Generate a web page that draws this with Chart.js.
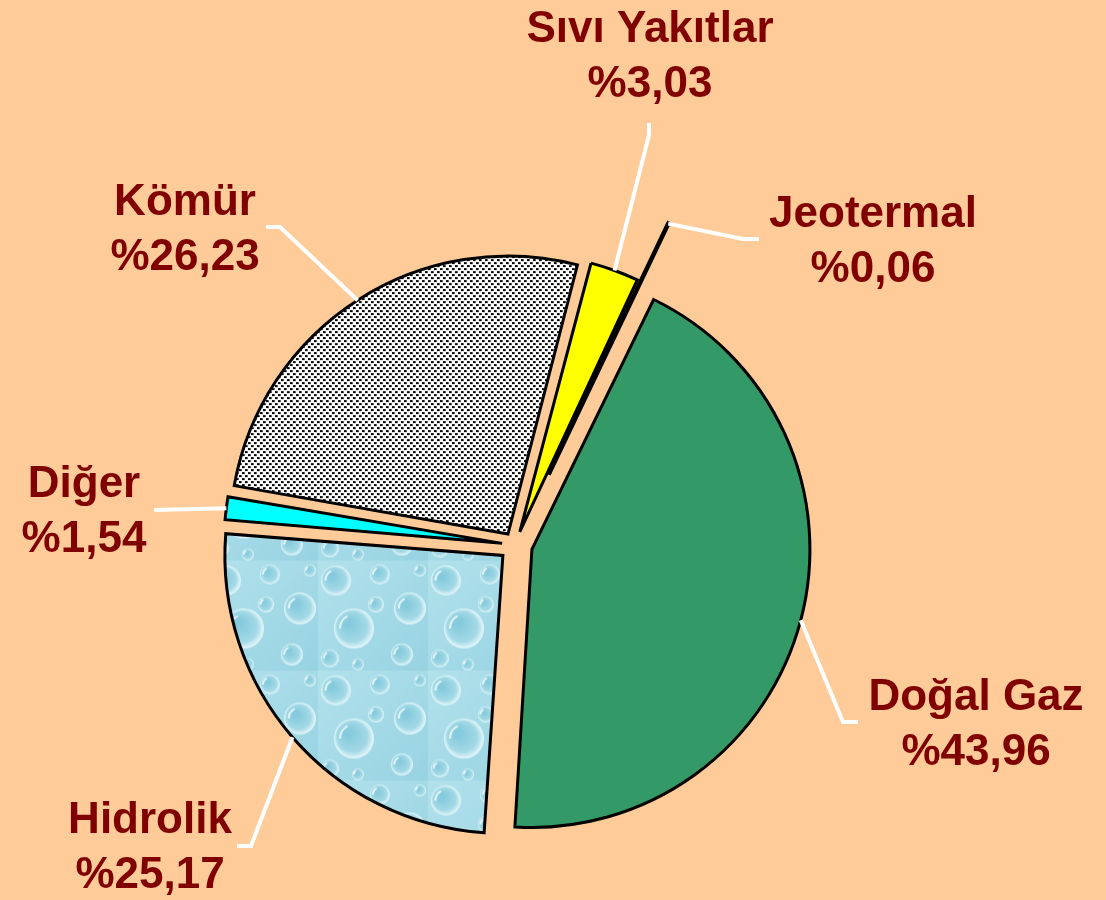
<!DOCTYPE html>
<html>
<head>
<meta charset="utf-8">
<script src="https://cdn.jsdelivr.net/npm/chart.js@4.4.0/dist/chart.umd.min.js"></script>
<style>
  html, body { margin: 0; padding: 0; background: #FFCC99; }
  #wrap { width: 1106px; height: 900px; position: relative; }
</style>
</head>
<body>
<div id="wrap"><canvas id="pie"></canvas></div>
<script>
// veriler
const labels = ['Doğal Gaz', 'Hidrolik', 'Diğer', 'Kömür', 'Sıvı Yakıtlar', 'Jeotermal'];
const shares = [43.96, 25.17, 1.54, 26.23, 3.03, 0.06];

// patlatma (Chart.js offset, px * 4) ve etiket yerleşimi
const explode = [70, 64, 52, 52, 56, 312];
const labelAnchor = [[976, 710], [150, 833], [84, 497], [185, 215], [650, 42], [873, 227]];
const leaderBend = [[843, 722, 858, 722], [251, 846, 237, 846], [154, 510, 154, 510],
                    [280, 227, 266, 227], [649, 135, 649, 123], [743, 239, 759, 239]];

const RADIUS = 278;

/** Kömür için noktalı desen */
function dotPattern() {
    const c = document.createElement('canvas');
    c.width = 6; c.height = 6;
    const g = c.getContext('2d');
    g.fillStyle = '#fff';
    g.fillRect(0, 0, 6, 6);
    g.fillStyle = '#000';
    g.fillRect(0, 0, 2, 2);
    g.fillRect(3, 3, 2, 2);
    g.fillStyle = '#555';
    g.fillRect(2, 0, 1, 2);
    g.fillRect(5, 3, 1, 2);
    return document.createElement('canvas').getContext('2d').createPattern(c, 'repeat');
}

/** Hidrolik için su damlası dokusu */
function waterPattern() {
    const c = document.createElement('canvas');
    c.width = 110; c.height = 110;
    const g = c.getContext('2d');
    const bg = g.createLinearGradient(0, 0, 110, 110);
    bg.addColorStop(0, '#b2e2ec');
    bg.addColorStop(1, '#98d3e2');
    g.fillStyle = bg;
    g.fillRect(0, 0, 110, 110);
    const drops = [[18, 20, 15], [62, 14, 10], [92, 48, 16], [36, 68, 20], [84, 94, 11], [12, 98, 9], [58, 44, 8], [102, 10, 6], [40, 104, 6]];
    drops.forEach(([x, y, r]) => {
        const rg = g.createRadialGradient(x - r * 0.3, y - r * 0.3, r * 0.2, x, y, r);
        rg.addColorStop(0, '#86cbdd');
        rg.addColorStop(0.7, '#a3d9e6');
        rg.addColorStop(1, '#e6f8fb');
        g.fillStyle = rg;
        g.beginPath();
        g.arc(x, y, r, 0, Math.PI * 2);
        g.fill();
        g.strokeStyle = 'rgba(255,255,255,0.75)';
        g.lineWidth = 2;
        g.beginPath();
        g.arc(x, y, r * 0.7, Math.PI * 1.0, Math.PI * 1.35);
        g.stroke();
    });
    return document.createElement('canvas').getContext('2d').createPattern(c, 'repeat');
}

const fills = ['#339966', waterPattern(), '#00FFFF', dotPattern(), '#FFFF00', '#FF0000'];

// Chart.js offset ile küçük dilimlerin yarıçapını büyütüyor; sabit yarıçapta tut
const keepRadius = {
    id: 'keepRadius',
    beforeDatasetsDraw(chart) {
        chart.getDatasetMeta(0).data.forEach(arc => {
            const t = (arc.options.offset || 0) / 4;
            const fix = 1 - Math.sin(Math.min(Math.PI, arc.circumference));
            arc.outerRadius = RADIUS - t * fix;
        });
    }
};

const sliceLabels = {
    id: 'sliceLabels',
    afterDatasetsDraw(chart) {
        const ctx = chart.ctx;
        const meta = chart.getDatasetMeta(0);
        ctx.save();
        meta.data.forEach((arc, i) => {
            const mid = (arc.startAngle + arc.endAngle) / 2;
            const t = (arc.options.offset || 0) / 4;
            const sx = arc.x + Math.cos(mid) * (RADIUS + t);
            const sy = arc.y + Math.sin(mid) * (RADIUS + t);
            const b = leaderBend[i];
            ctx.strokeStyle = '#FFFFFF';
            ctx.lineWidth = 4;
            ctx.lineJoin = 'miter';
            ctx.beginPath();
            ctx.moveTo(sx, sy);
            ctx.lineTo(b[0], b[1]);
            ctx.lineTo(b[2], b[3]);
            ctx.stroke();

            const [ax, ay] = labelAnchor[i];
            ctx.fillStyle = '#800000';
            ctx.font = 'bold 44px "Liberation Sans", Arial, sans-serif';
            ctx.textAlign = 'center';
            ctx.textBaseline = 'alphabetic';
            ctx.fillText(labels[i], ax, ay);
            ctx.fillText('%' + shares[i].toFixed(2).replace('.', ','), ax, ay + 55);
        });
        ctx.restore();
    }
};

new Chart(document.getElementById('pie'), {
    type: 'pie',
    data: {
        labels: labels,
        datasets: [{
            data: shares,
            backgroundColor: fills,
            borderColor: '#000000',
            borderWidth: [3, 3, 3, 3, 3, 4.5],
            borderJoinStyle: 'miter',
            offset: explode
        }]
    },
    options: {
        responsive: true,
        maintainAspectRatio: false,
        animation: false,
        events: [],
        rotation: 25.6,
        radius: RADIUS,
        layout: { padding: { left: 0, right: 76, top: 190, bottom: 0 } },
        plugins: {
            legend: { display: false },
            tooltip: { enabled: false },
            title: { display: false }
        }
    },
    plugins: [keepRadius, sliceLabels]
});
</script>
</body>
</html>
